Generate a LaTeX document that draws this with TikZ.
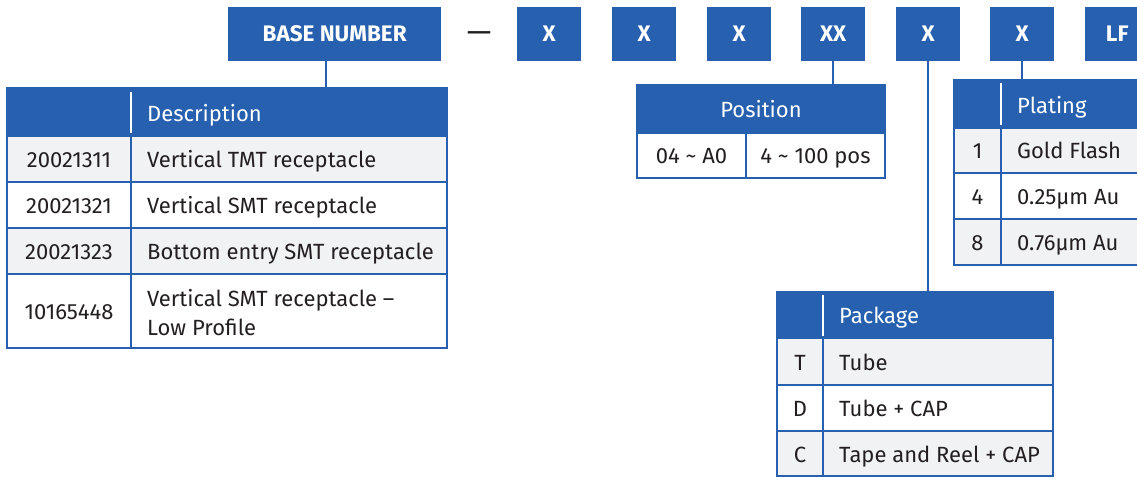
\documentclass[tikz,border=0pt]{standalone}
\usepackage{fontspec}
\setmainfont{Fira Sans}
\definecolor{tblue}{RGB}{38,96,174}
\definecolor{tgray}{RGB}{241,242,244}
\definecolor{ttext}{RGB}{35,31,32}
\begin{document}
\begin{tikzpicture}[x=1pt,y=-1pt,
  topbox/.style={fill=tblue, text=white, font=\fontsize{22.5}{26}\selectfont\bfseries,
    minimum height=54pt, minimum width=64pt, inner sep=0pt, anchor=north west},
  headbox/.style={fill=tblue, inner sep=0pt, anchor=north west},
  grid/.style={draw=tblue, line width=2pt},
  conn/.style={draw=tblue, line width=2.5pt},
  sep/.style={draw=white, line width=2pt},
  txt/.style={text=ttext, font=\fontsize{22}{29}\selectfont, inner sep=0pt, anchor=base},
  htxt/.style={text=white, font=\fontsize{22}{26}\selectfont, inner sep=0pt, anchor=base},
  lt/.style={anchor=base west},
]
\useasboundingbox (0,0) rectangle (1137,477);
\clip (0,0) rectangle (1137,477);

% top row
\node[topbox, minimum width=213pt] (base) at (228,7) {BASE NUMBER};
\node[txt, font=\fontsize{31}{34}\selectfont, anchor=base] (dash) at (479,42) {—};
\node[topbox] (x1) at (517,7) {X};
\node[topbox] (x2) at (612,7) {X};
\node[topbox] (x3) at (707,7) {X};
\node[topbox] (xx) at (801,7) {XX};
\node[topbox] (x4) at (896,7) {X};
\node[topbox] (x5) at (990,7) {X};
\node[topbox] (lf) at (1085,7) {LF};

% Description table
\fill[tgray] (7,136) rectangle (447,182);
\fill[tgray] (7,228) rectangle (447,274);
\node[headbox, minimum width=440pt, minimum height=48pt] (deschead) at (7,88) {};
\draw[grid] (7,88) rectangle (447,348);
\draw[grid] (7,136) -- (447,136) (7,182) -- (447,182) (7,228) -- (447,228)
  (7,274) -- (447,274) (131,136) -- (131,348);
\draw[sep] (131,92) -- (131,133);
\node[htxt, lt] (desct) at (147,121) {Description};
\node[txt] (d1a) at (69,167) {20021311};
\node[txt, lt] (d1b) at (147,167) {Vertical TMT receptacle};
\node[txt] (d2a) at (69,213) {20021321};
\node[txt, lt] (d2b) at (147,213) {Vertical SMT receptacle};
\node[txt] (d3a) at (69,259) {20021323};
\node[txt, lt] (d3b) at (147,259) {Bottom entry SMT receptacle};
\node[txt] (d4a) at (69,319) {10165448};
\node[txt, anchor=center, align=left] (d4b) at (147,313) [anchor=west] {Vertical SMT receptacle –\\Low Profile};

% Position table
\node[headbox, minimum width=248pt, minimum height=48pt] (poshead) at (637,85) {};
\draw[grid] (637,85) rectangle (885,178);
\draw[grid] (637,133) -- (885,133) (746,133) -- (746,178);
\node[htxt] (post) at (761,117) {Position};
\node[txt] (p1) at (691.5,163) {04 \textasciitilde{} A0};
\node[txt] (p2) at (815.5,163) {4 \textasciitilde{} 100 pos};

% Plating table
\fill[tgray] (954,128) rectangle (1160,173);
\fill[tgray] (954,219) rectangle (1160,265);
\node[headbox, minimum width=206pt, minimum height=48pt] (plathead) at (954,80) {};
\draw[grid] (954,80) rectangle (1160,265);
\draw[grid] (954,128) -- (1160,128) (954,173) -- (1160,173) (954,219) -- (1160,219)
  (1001,128) -- (1001,265);
\draw[sep] (1001,83) -- (1001,125);
\node[htxt, lt] (platt) at (1017,113) {Plating};
\node[txt] (pl1a) at (977.5,158) {1};
\node[txt, lt] (pl1b) at (1017,158) {Gold Flash};
\node[txt] (pl2a) at (977.5,204) {4};
\node[txt, lt] (pl2b) at (1017,204) {0.25µm Au};
\node[txt] (pl3a) at (977.5,250) {8};
\node[txt, lt] (pl3b) at (1017,250) {0.76µm Au};

% Package table
\fill[tgray] (777,338) rectangle (1053,385);
\fill[tgray] (777,431) rectangle (1053,476);
\node[headbox, minimum width=276pt, minimum height=46pt] (packhead) at (777,292) {};
\draw[grid] (777,292) rectangle (1053,476);
\draw[grid] (777,338) -- (1053,338) (777,385) -- (1053,385) (777,431) -- (1053,431)
  (823,338) -- (823,476);
\draw[sep] (823,295) -- (823,336);
\node[htxt, lt] (packt) at (839,323) {Package};
\node[txt] (k1a) at (800,370) {T};
\node[txt, lt] (k1b) at (839,370) {Tube};
\node[txt] (k2a) at (800,416) {D};
\node[txt, lt] (k2b) at (839,416) {Tube + CAP};
\node[txt] (k3a) at (800,462) {C};
\node[txt, lt] (k3b) at (839,462) {Tape and Reel + CAP};

% connectors
\draw[conn] ([xshift=-8.5pt]base.south) -- ([xshift=-8.5pt]base.south |- deschead.north);
\draw[conn] (xx.south) -- (xx.south |- poshead.north);
\draw[conn] (x4.south) -- (x4.south |- packhead.north);
\draw[conn] (x5.south) -- (x5.south |- plathead.north);
\end{tikzpicture}
\end{document}
